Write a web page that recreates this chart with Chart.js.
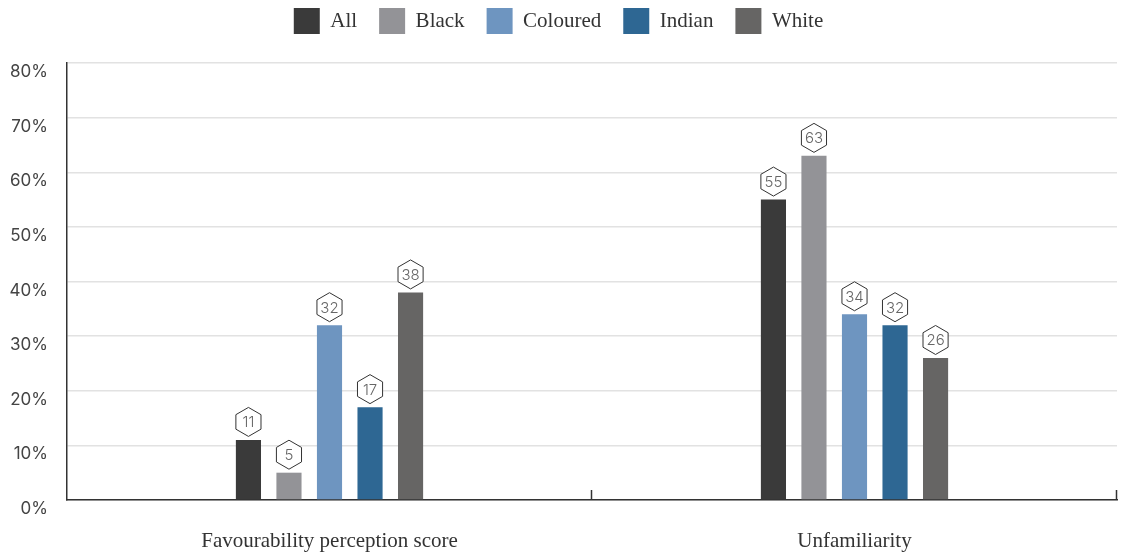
<!DOCTYPE html>
<html>
<head>
<meta charset="utf-8">
<script src="https://cdn.jsdelivr.net/npm/chart.js@4/dist/chart.umd.min.js"></script>
<style>
  html, body { margin: 0; padding: 0; background: #fff; }
  #wrap { width: 1123px; height: 556px; }
</style>
</head>
<body>
<div id="wrap"><canvas id="chart"></canvas></div>
<script>
let categories = ["Favourability perception score", "Unfamiliarity"];
let groupNames = ["All", "Black", "Coloured", "Indian", "White"];
let allValues = [11, 55];
let blackValues = [5, 63];
let colouredValues = [32, 34];
let indianValues = [17, 32];
let whiteValues = [38, 26];
let colors = ["#3a3a3a", "#939397", "#6e95c0", "#2e6793", "#666564"];

let seriesValues = [allValues, blackValues, colouredValues, indianValues, whiteValues];

// hexagon badges above each bar
let hexLabels = {
  id: "hexLabels",
  afterDatasetsDraw(chart) {
    let ctx = chart.ctx;
    chart.data.datasets.forEach((ds, i) => {
      chart.getDatasetMeta(i).data.forEach((bar, j) => {
        let cx = bar.x;
        let cy = bar.y - 18;
        let r = 14.5;
        ctx.save();
        ctx.beginPath();
        for (let k = 0; k < 6; k++) {
          let a = Math.PI / 180 * (60 * k - 90);
          let px = cx + r * Math.cos(a);
          let py = cy + r * Math.sin(a);
          if (k == 0) ctx.moveTo(px, py); else ctx.lineTo(px, py);
        }
        ctx.closePath();
        ctx.fillStyle = "#fff";
        ctx.fill();
        ctx.lineWidth = 1;
        ctx.strokeStyle = "#333";
        ctx.stroke();
        ctx.fillStyle = "#666";
        ctx.font = "300 15px Inter";
        ctx.textAlign = "center";
        ctx.textBaseline = "middle";
        ctx.fillText(ds.data[j], cx, cy + 1);
        ctx.restore();
      });
    });
  }
};

// short inner ticks at category boundaries
let boundaryTicks = {
  id: "boundaryTicks",
  afterDraw(chart) {
    let x = chart.scales.x;
    let ctx = chart.ctx;
    let step = (x.right - x.left) / categories.length;
    ctx.save();
    ctx.strokeStyle = "#333";
    ctx.lineWidth = 1.5;
    for (let i = 1; i <= categories.length; i++) {
      let px = Math.round(x.left + step * i) - 0.5;
      ctx.beginPath();
      ctx.moveTo(px, x.top - 10);
      ctx.lineTo(px, x.top);
      ctx.stroke();
    }
    ctx.restore();
  }
};

// fixed legend height so the plot starts where it should
let legendHeight = {
  id: "legendHeight",
  beforeInit(chart) {
    let fit = chart.legend.fit;
    chart.legend.fit = function () {
      fit.bind(chart.legend)();
      this.height = 77;
    };
  }
};

let data = {
  labels: categories,
  datasets: groupNames.map((name, i) => ({
    label: name,
    data: seriesValues[i],
    backgroundColor: colors[i],
    borderWidth: 0,
    barPercentage: 0.62,
    categoryPercentage: 0.386
  }))
};

let config = {
  type: "bar",
  data: data,
  options: {
    responsive: true,
    maintainAspectRatio: false,
    animation: false,
    layout: { padding: { left: 0, right: 6, top: -14, bottom: 0 } },
    plugins: {
      tooltip: { enabled: false },
      legend: {
        position: "top",
        labels: {
          boxWidth: 26,
          boxHeight: 26,
          padding: 22,
          color: "#333",
          font: { family: "'Liberation Serif'", size: 21 }
        }
      }
    },
    scales: {
      x: {
        grid: { display: false },
        border: { display: true, color: "#333", width: 1.5 },
        ticks: {
          color: "#333",
          padding: 21,
          font: { family: "'Liberation Serif'", size: 21 }
        },
        afterFit(scale) { scale.height = 56; }
      },
      y: {
        min: 0,
        max: 80,
        grid: { color: "#e2e2e2", lineWidth: 1.5, drawTicks: false },
        border: { display: true, color: "#333", width: 1.5 },
        ticks: {
          stepSize: 10,
          padding: 19,
          labelOffset: 9,
          color: "#444",
          font: { family: "Inter", size: 17 },
          callback: v => v + "%"
        },
        afterFit(scale) { scale.width = 67; }
      }
    }
  },
  plugins: [hexLabels, boundaryTicks, legendHeight]
};

let ctx = document.getElementById("chart").getContext("2d");
let myChart = new Chart(ctx, config);
</script>
</body>
</html>
